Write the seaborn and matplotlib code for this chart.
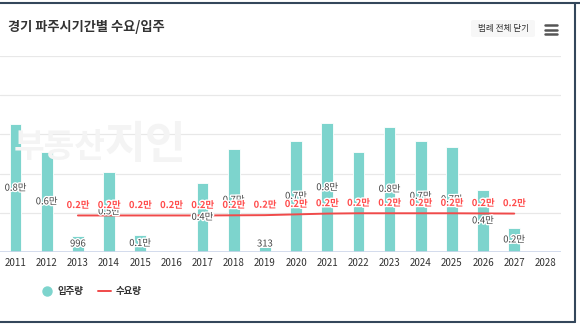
import matplotlib
matplotlib.use("Agg")
import matplotlib.pyplot as plt
import matplotlib.patheffects as pe
from matplotlib.lines import Line2D
from matplotlib.patches import FancyBboxPatch
import seaborn as sns
import pandas as pd

years = [str(y) for y in range(2011, 2029)]
supply = [8140, 6400, 996, 5130, 1090, 0, 4420, 6600, 313, 7100, 8200, 6400,
          8000, 7100, 6670, 3970, 1540, 0]
hidden_labels = ["2016", "2022", "2028"]
demand_years = [str(y) for y in range(2013, 2028)]
demand = [2330, 2330, 2330, 2330, 2330, 2340, 2350, 2400, 2450, 2470,
          2470, 2470, 2470, 2460, 2450]

title = "경기 파주시기간별 수요/입주"
legend_supply = "입주량"
legend_demand = "수요량"
button_text = "범례 전체 닫기"

sns.set_theme(style="white")
plt.rcParams["font.family"] = ["Noto Sans CJK KR", "DejaVu Sans"]

W, H = 580, 326
fig = plt.figure(figsize=(W / 100, H / 100), dpi=100)
ax = fig.add_axes([0 / W, (H - 252) / H, 561 / W, (252 - 56) / H])

bar_color = "#7dd4cd"
line_color = "#f04a4a"

# watermark (behind everything)
fig.text(14 / W, 1 - 148 / H, "부동산", fontsize=24, color="#f4f4f4",
         fontweight="bold", va="center", zorder=0)
fig.text(105 / W, 1 - 145 / H, "지인", fontsize=32, color="#f4f4f4",
         fontweight="bold", va="center", zorder=0)
ax.patch.set_alpha(0)

df = pd.DataFrame({"year": years, "supply": supply})
sns.barplot(data=df, x="year", y="supply", order=years, color=bar_color,
            width=0.37, saturation=1, edgecolor="white", linewidth=0.6, ax=ax)

pos = {y: i for i, y in enumerate(years)}
ddf = pd.DataFrame({"x": [pos[y] for y in demand_years], "demand": demand})
sns.lineplot(data=ddf, x="x", y="demand", color=line_color, linewidth=1.4, ax=ax)

ax.set_xlim(-0.5, len(years) - 0.5)
ax.set_ylim(0, 12500)
ax.set_yticks([0, 2500, 5000, 7500, 10000, 12500])
ax.yaxis.grid(True, color="#e8e8e8", linewidth=0.9)
ax.set_axisbelow(True)
ax.set_yticklabels([])
ax.set_xlabel("")
ax.set_ylabel("")
for s in ax.spines.values():
    s.set_visible(False)
ax.axhline(0, color="#ccd6eb", linewidth=1.2, zorder=3)
ax.tick_params(axis="x", length=0, labelsize=7, labelcolor="#333333", pad=4)
ax.tick_params(axis="y", length=0)

stroke = [pe.withStroke(linewidth=2, foreground="white")]


def fmt(v):
    return f"{v / 10000:.1f}만" if v >= 1000 else f"{v}"


ppu = (252 - 56) / 12500.0  # px per unit
for y, v in zip(years, supply):
    if y in hidden_labels or v <= 0:
        continue
    yc = max(v / 2.0, 8 / ppu)
    ax.text(pos[y], yc, fmt(v), ha="center", va="center", fontsize=6.8,
            color="#444444", fontweight="medium", path_effects=stroke, zorder=5)

for y, v in zip(demand_years, demand):
    ax.annotate(fmt(v), (pos[y], v), xytext=(0, 7.5), textcoords="offset points",
                ha="center", va="center", fontsize=6.8, color="#ff4d4d",
                fontweight="bold", path_effects=stroke, zorder=6)

# title
fig.text(8 / W, 1 - 27 / H, title, fontsize=9.5, color="#333333",
         fontweight="bold", va="center", ha="left")

# button
fig.add_artist(FancyBboxPatch((471 / W, 1 - 37 / H), 64 / W, 17 / H,
                              boxstyle="round,pad=0,rounding_size=0.005",
                              transform=fig.transFigure, facecolor="#f7f7f7",
                              edgecolor="none"))
fig.text(503 / W, 1 - 29 / H, button_text, fontsize=6.2, color="#333333",
         ha="center", va="center")
for yy in (25, 29.5, 34):
    fig.add_artist(Line2D([545 / W, 557 / W], [1 - yy / H, 1 - yy / H],
                          transform=fig.transFigure, color="#555555", linewidth=1.8))

# legend
fig.add_artist(Line2D([47 / W], [1 - 291 / H], marker="o", markersize=6.5,
                      color=bar_color, linestyle="none", transform=fig.transFigure))
fig.text(57 / W, 1 - 291 / H, legend_supply, fontsize=6.8, color="#333333",
         fontweight="bold", va="center")
fig.add_artist(Line2D([98 / W, 111 / W], [1 - 291 / H, 1 - 291 / H],
                      color=line_color, linewidth=1.4, transform=fig.transFigure))
fig.text(116 / W, 1 - 291 / H, legend_demand, fontsize=6.8, color="#333333",
         fontweight="bold", va="center")

# card borders
border = "#34475b"
fig.add_artist(Line2D([0, 1], [1 - 2.5 / H, 1 - 2.5 / H], color=border,
                      linewidth=1.5, transform=fig.transFigure))
fig.add_artist(Line2D([574.5 / W, 574.5 / W], [1 - 2.5 / H, 1 - 322 / H],
                      color=border, linewidth=1.5, transform=fig.transFigure))
fig.add_artist(Line2D([0, 574.5 / W], [1 - 322 / H, 1 - 322 / H], color=border,
                      linewidth=1.5, transform=fig.transFigure))

fig.savefig("out.png", dpi=100)
